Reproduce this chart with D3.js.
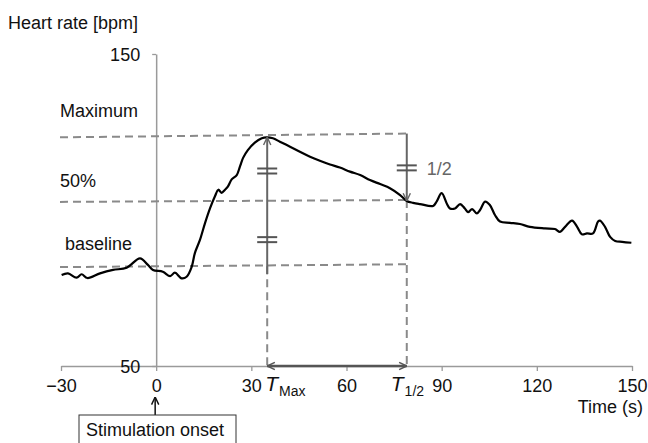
<!DOCTYPE html>
<html><head><meta charset="utf-8">
<script src="https://cdn.jsdelivr.net/npm/d3@7"></script>
<style>
body{margin:0;background:#fff;}
text{font-family:"Liberation Sans",Arial,sans-serif;}
</style></head>
<body><svg id="c" width="648" height="443"></svg>
<script>
const time = [-29.8,-27.8,-25.1,-23.5,-21.7,-17.7,-13.6,-9.3,-5.1,-2.6,-1.0,2.1,4.4,5.9,8.0,9.6,11.2,12.2,13.8,15.4,17.0,18.5,19.6,20.6,21.7,22.6,23.8,25.4,26.4,27.4,28.9,31.1,33.3,34.8,36.8,39.0,42.2,45.3,48.5,51.6,54.8,57.9,61.1,64.3,67.4,70.6,73.7,76.9,79.0,81.0,83.2,87.3,88.4,90.0,91.6,92.6,94.2,95.8,97.3,98.3,99.6,101.1,102.1,103.7,105.2,106.8,108.4,111.5,114.7,117.8,122.6,125.7,127.3,128.9,131.1,132.7,134.2,135.8,137.7,139.3,139.9,141.5,143.1,144.7,146.9,149.8];
const heartRate = [79.2,79.7,78.3,79.4,78.2,79.7,80.8,81.5,84.5,82.4,80.8,80.2,78.8,79.9,78.1,78.6,81.8,86.2,90.4,95.8,100.6,104.3,106.5,105.5,106.5,107.5,109.8,111.2,113.9,116.7,119.2,121.6,123.0,123.3,123.0,121.9,120.3,118.7,117.1,115.8,114.6,113.6,112.3,111.2,109.6,108.3,107.0,104.8,102.9,102.3,101.9,101.3,102.7,105.4,102.1,100.5,100.5,101.9,100.5,99.3,100.3,98.9,100.0,102.7,101.6,98.4,96.3,95.9,95.5,94.6,94.1,93.9,93.0,94.6,96.6,94.6,92.2,92.5,92.5,96.3,96.6,94.6,91.4,90.1,89.8,89.5];
const xTicks = [-30,0,30,60,90,120,150];
const yTicks = [50,150];
const levelLabels = ["Maximum","50%","baseline"];
const levelValues = [[123.3,124.5],[102.6,103.2],[81.7,82.6]]; // left / right ends
const tMax = 35, tHalf = 79;
const equalMarksMax = [112.5, 90.5];
const equalMarkHalf = 113.5;

const svg = d3.select("#c");
const x = d3.scaleLinear().domain([-30,150]).range([61,632]);
const y = d3.scaleLinear().domain([50,150]).range([366,54]);

const defs = svg.append("defs");
function mk(id,color){
  defs.append("marker").attr("id",id).attr("viewBox","0 0 10 10").attr("refX",9.5).attr("refY",5)
    .attr("markerWidth",9).attr("markerHeight",10).attr("markerUnits","userSpaceOnUse")
    .attr("orient","auto-start-reverse")
    .append("path").attr("d","M1,1 L9.5,5 L1,9").attr("fill","none").attr("stroke",color).attr("stroke-width",1.6);
}
mk("ag","#666"); mk("ad","#555"); mk("ab","#111");

// axes
const gx = svg.append("g").attr("transform",`translate(0,${y(50)})`)
  .call(d3.axisBottom(x).tickValues(xTicks).tickSize(5).tickSizeOuter(0).tickPadding(8));
const gy = svg.append("g").attr("transform",`translate(${x(0)},0)`)
  .call(d3.axisLeft(y).tickValues(yTicks).tickSize(4).tickSizeOuter(0).tickPadding(12));
[gx,gy].forEach(g=>{
  g.select(".domain").attr("stroke","#9a9a9a").attr("stroke-width",1.5);
  g.selectAll(".tick line").attr("stroke","#9a9a9a").attr("stroke-width",1.3);
  g.selectAll(".tick text").attr("font-size",18).attr("fill","#111").attr("font-family","Liberation Sans, Arial, sans-serif");
});
gy.selectAll(".tick text").attr("dy","0.35em");

// dashed level lines
const dash = "8,5";
levelValues.forEach((v)=>{
  svg.append("line").attr("x1",x(-30)-1).attr("x2",x(tHalf)).attr("y1",y(v[0])).attr("y2",y(v[1]))
    .attr("stroke","#8a8a8a").attr("stroke-width",2).attr("stroke-dasharray",dash);
});
// vertical dashed lines
svg.append("line").attr("x1",x(tMax)).attr("x2",x(tMax)).attr("y1",y(levelValues[2][0]+0.3)).attr("y2",y(50))
  .attr("stroke","#8a8a8a").attr("stroke-width",2).attr("stroke-dasharray",dash);
svg.append("line").attr("x1",x(tHalf)).attr("x2",x(tHalf)).attr("y1",y(levelValues[1][1])).attr("y2",y(50))
  .attr("stroke","#8a8a8a").attr("stroke-width",2).attr("stroke-dasharray",dash);

// level labels
const labelPos = [[60,117],[60,187],[65,250]];
levelLabels.forEach((t,i)=>{
  svg.append("text").attr("x",labelPos[i][0]).attr("y",labelPos[i][1]).attr("font-size",18).attr("fill","#111").text(t);
});

// heart-rate curve
const pts = time.map((t,i)=>[t,heartRate[i]]);
svg.append("path").datum(pts)
  .attr("d",d3.line().x(d=>x(d[0])).y(d=>y(d[1])).curve(d3.curveCatmullRom.alpha(0.5)))
  .attr("fill","none").attr("stroke","#000").attr("stroke-width",2.2).attr("stroke-linejoin","round");

// T_max arrow
svg.append("line").attr("x1",x(tMax)).attr("x2",x(tMax)).attr("y1",y(levelValues[2][0]+0.3)+8).attr("y2",y(123.3))
  .attr("stroke","#666").attr("stroke-width",2).attr("marker-end","url(#ag)");
equalMarksMax.forEach(v=>{
  [-2.5,2.5].forEach(o=>svg.append("line").attr("x1",x(tMax)-10).attr("x2",x(tMax)+10)
    .attr("y1",y(v)+o).attr("y2",y(v)+o).attr("stroke","#555").attr("stroke-width",2));
});
// T_1/2 arrow
svg.append("line").attr("x1",x(tHalf)).attr("x2",x(tHalf)).attr("y1",y(levelValues[0][1])).attr("y2",y(102.9))
  .attr("stroke","#666").attr("stroke-width",2).attr("marker-end","url(#ag)");
[-2.5,2.5].forEach(o=>svg.append("line").attr("x1",x(tHalf)-10).attr("x2",x(tHalf)+10)
  .attr("y1",y(equalMarkHalf)+o).attr("y2",y(equalMarkHalf)+o).attr("stroke","#555").attr("stroke-width",2));
svg.append("text").attr("x",x(tHalf)+20).attr("y",y(equalMarkHalf)+2).attr("font-size",18).attr("fill","#666")
  .attr("dominant-baseline","middle").text("1/2");

// horizontal double arrow
svg.append("line").attr("x1",x(tMax)).attr("x2",x(tHalf)).attr("y1",y(50)).attr("y2",y(50))
  .attr("stroke","#555").attr("stroke-width",2.6).attr("marker-start","url(#ad)").attr("marker-end","url(#ad)");

// T labels
function tLabel(t,sub,dx){
  const tx = svg.append("text").attr("x",x(t)-2+dx).attr("y",391).attr("fill","#111");
  tx.append("tspan").attr("font-size",21).attr("font-style","italic").text("T");
  tx.append("tspan").attr("font-size",14).attr("dy",5).attr("dx",1).text(sub);
}
tLabel(tMax,"Max",0);
tLabel(tHalf,"1/2",-14);

// axis titles
svg.append("text").attr("x",8).attr("y",29).attr("font-size",18).attr("fill","#111").text("Heart rate [bpm]");
svg.append("text").attr("x",643).attr("y",413).attr("text-anchor","end").attr("font-size",18).attr("fill","#111").text("Time (s)");

// stimulation onset
svg.append("line").attr("x1",x(0)-1).attr("x2",x(0)-1).attr("y1",415).attr("y2",397)
  .attr("stroke","#111").attr("stroke-width",1.5).attr("marker-end","url(#ab)");
svg.append("rect").attr("x",79).attr("y",415).attr("width",157).attr("height",40)
  .attr("fill","none").attr("stroke","#333").attr("stroke-width",1);
svg.append("text").attr("x",86).attr("y",436).attr("font-size",18).attr("fill","#111").text("Stimulation onset");
</script></body></html>
